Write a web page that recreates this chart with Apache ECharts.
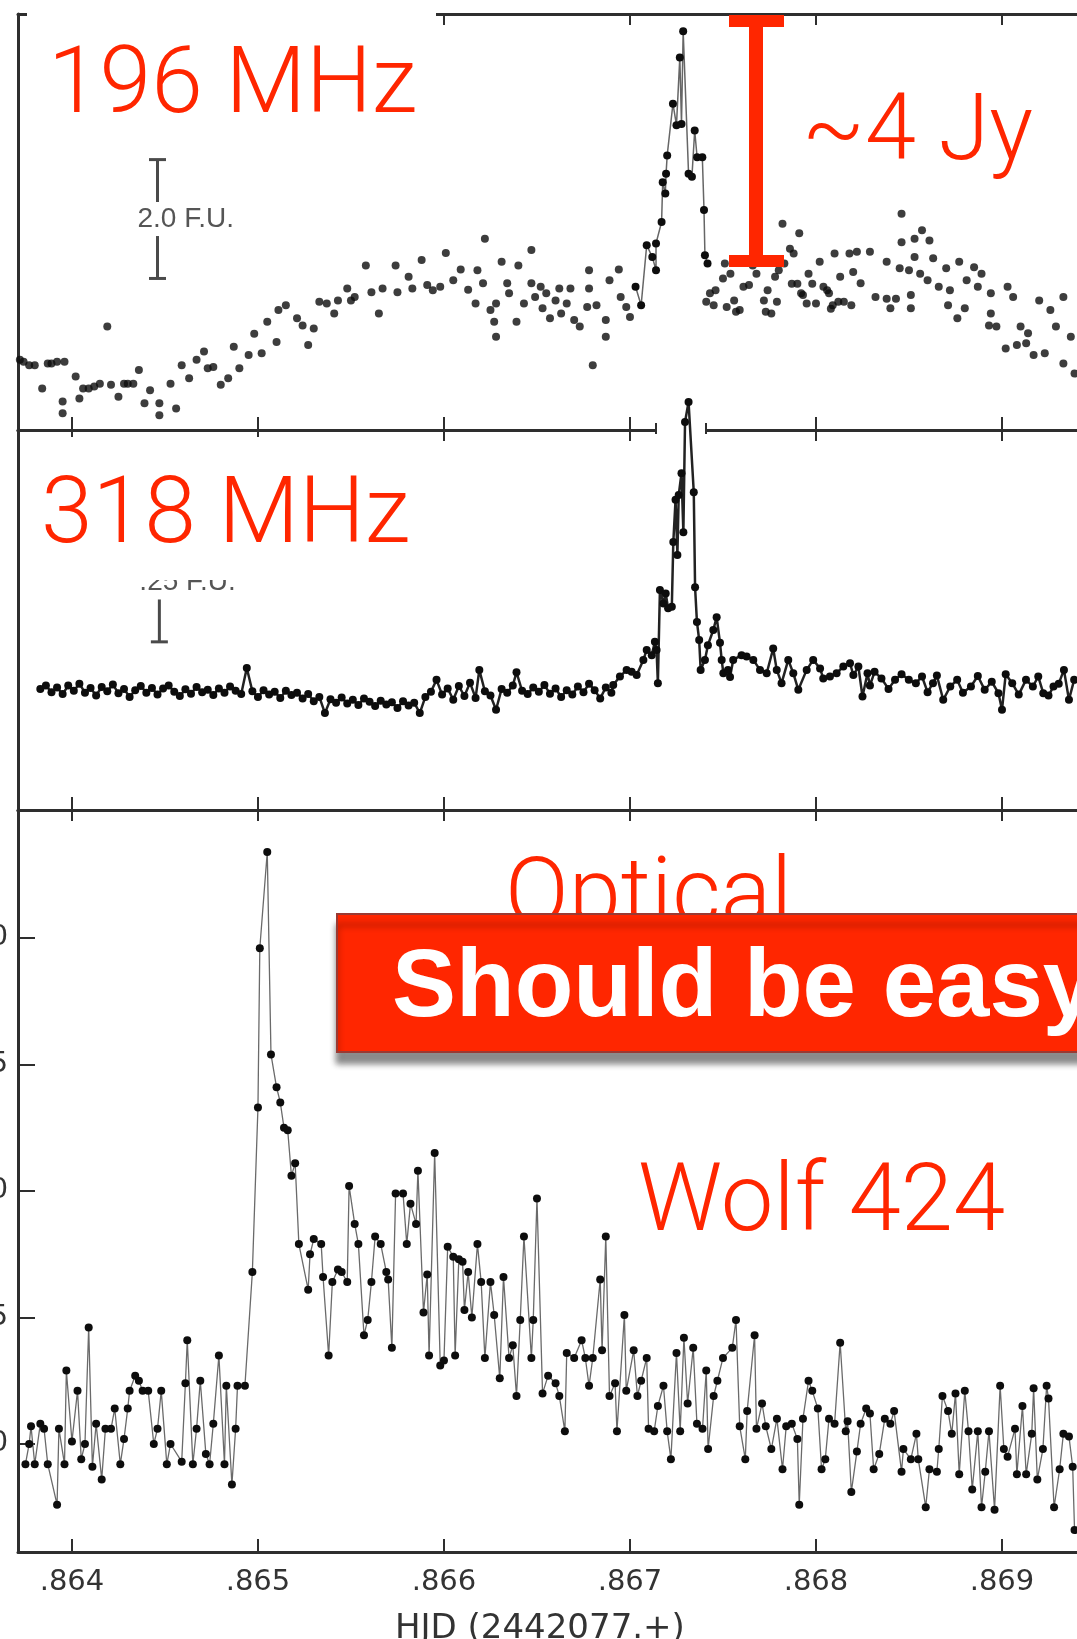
<!DOCTYPE html>
<html><head><meta charset="utf-8">
<script src="https://cdn.jsdelivr.net/npm/echarts@6/dist/echarts.min.js"></script>
<style>html,body{margin:0;padding:0;background:#fff}#c{width:1077px;height:1639px}</style>
</head><body><div id="c"></div><script>
// ---------- data ----------
const xTicks = [0.864, 0.865, 0.866, 0.867, 0.868, 0.869];
const opticalTicks = [1.0, 1.5, 2.0, 2.5, 3.0];

// 196 MHz scattered points (HJD fraction, flux F.U.)
const mhz196Points = [
[.86372,1.18],[.86374,1.15],[.86377,1.09],[.86380,1.09],[.86384,0.70],[.86387,1.12],[.86389,1.12],[.86392,1.15],[.86395,0.48],[.86395,0.28],[.86396,1.15],[.86402,0.90],[.86404,0.53],[.86406,0.70],[.86409,0.70],[.86412,0.73],[.86415,0.78],[.86419,1.74],[.86421,0.76],[.86425,0.56],[.86428,0.78],[.86430,0.78],[.86433,0.78],[.86436,1.01],[.86439,0.45],[.86442,0.67],[.86447,0.45],[.86447,0.25],[.86453,0.78],[.86456,0.36],[.86459,1.09],[.86463,0.87],[.86467,1.18],[.86471,1.32],[.86473,1.04],[.86476,1.06],[.86480,0.76],[.86484,0.87],[.86487,1.40],[.86490,1.04],[.86495,1.26],[.86498,1.62],[.86502,1.29],[.86505,1.82],[.86510,1.48],[.86511,2.02],[.86515,2.10],[.86521,1.88],[.86524,1.76],[.86527,1.43],[.86530,1.71],[.86533,2.16],[.86537,2.13],[.86541,1.96],[.86543,2.18],[.86548,2.38],[.86550,2.18],[.86552,2.24],[.86558,2.77],[.86561,2.32],[.86565,1.96],
[.86567,2.38],[.86574,2.77],[.86575,2.32],[.86581,2.58],[.86583,2.38],[.86588,2.86],[.86591,2.44],[.86594,2.35],[.86598,2.41],[.86601,2.98],[.86605,2.52],[.86609,2.70],[.86613,2.36],[.86617,2.13],[.86618,2.69],[.86621,2.47],[.86622,3.22],[.86625,2.02],[.86627,1.82],[.86628,1.57],[.86628,2.13],[.86631,2.83],[.86634,2.47],[.86635,2.30],[.86639,1.82],[.86640,2.77],[.86643,2.13],[.86647,3.03],[.86647,2.47],[.86649,2.24],[.86652,2.41],[.86653,2.05],[.86655,2.30],[.86657,1.88],[.86660,2.18],[.86662,2.38],[.86663,1.96],[.86666,2.13],[.86668,2.38],[.86670,1.85],[.86673,1.74],[.86677,2.07],[.86678,2.69],[.86678,2.38],[.86680,1.09],[.86682,2.10],[.86687,1.85],[.86687,1.57],[.86689,2.52],[.86694,2.70],[.86695,2.24],[.86698,2.07],[.86700,1.90],
[.86741,2.16],[.86743,2.30],[.86745,2.10],[.86746,2.35],[.86750,2.55],[.86751,2.80],[.86752,2.07],[.86754,2.63],[.86756,2.18],[.86757,1.99],[.86759,2.02],[.86761,2.41],[.86764,2.44],[.86766,2.77],[.86768,2.63],[.86770,2.86],[.86772,2.18],[.86773,1.99],[.86774,2.35],[.86776,1.96],[.86778,2.58],[.86779,2.16],[.86780,2.69],[.86782,3.47],[.86783,2.80],[.86786,3.05],[.86787,2.46],[.86788,2.97],[.86790,2.46],[.86791,3.31],[.86792,2.30],[.86793,2.27],[.86795,2.13],[.86796,2.63],[.86798,2.46],[.86800,2.13],[.86802,2.83],[.86804,2.41],[.86806,2.35],[.86807,2.30],[.86808,2.04],[.86809,2.10],[.86810,2.97],[.86812,2.16],[.86813,2.58],[.86815,2.16],[.86818,2.97],
[.86819,2.10],[.86820,2.66],[.86822,3.00],[.86824,2.47],[.86829,3.00],[.86832,2.24],[.86838,2.83],[.86838,2.21],[.86840,2.05],[.86843,2.21],[.86845,2.72],[.86846,3.16],[.86846,3.64],[.86850,2.69],[.86851,2.27],[.86851,2.05],[.86853,3.22],[.86853,2.91],[.86856,2.63],[.86857,3.36],[.86860,2.52],[.86861,3.19],[.86863,2.89],[.86866,2.41],[.86870,2.72],[.86871,2.10],[.86872,2.35],[.86876,1.88],[.86877,2.83],[.86880,2.05],[.86881,2.52],[.86885,2.74],[.86887,2.41],[.86889,2.63],[.86893,1.76],[.86894,2.30],[.86894,1.96],[.86897,1.74],[.86902,1.37],[.86903,2.41],[.86906,2.24],[.86908,1.43],[.86910,1.74],[.86913,1.46],[.86914,1.63],[.86917,1.26],[.86920,2.18],[.86923,1.29],[.86926,2.02],[.86929,1.74],[.86933,2.24],[.86933,1.12],[.86937,1.57],[.86939,0.95]
];
// 196 MHz burst, joined by a line
const mhz196Burst = [
[.86703,2.41],[.86706,2.10],[.86709,3.11],[.86712,2.91],[.86714,2.69],[.86714,3.14],[.86717,3.50],[.867176,4.17],[.86719,3.98],[.867194,4.31],[.867200,4.62],[.867231,5.49],[.867250,5.13],[.867268,6.27],[.867277,5.15],[.867286,6.71],[.867315,4.31],[.867333,4.26],[.867348,5.04],[.867361,4.59],[.867389,4.59],[.867398,3.70],[.867403,2.94],[.867417,2.80]
];
// 318 MHz (HJD fraction, flux F.U.)
const mhz318 = [
[.86383,.255],[.86386,.262],[.86389,.248],[.86392,.258],[.86395,.244],[.86398,.262],[.86401,.251],[.86404,.266],[.86407,.247],[.86410,.257],[.86413,.241],[.86416,.259],[.86419,.250],[.86422,.264],[.86425,.246],[.86428,.255],[.86431,.238],[.86434,.252],[.86437,.261],[.86440,.247],[.86443,.257],[.86446,.243],[.86449,.256],[.86452,.262],[.86455,.249],[.86458,.240],[.86461,.254],[.86464,.245],[.86467,.259],[.86470,.248],[.86473,.253],[.86476,.242],[.86479,.256],[.86482,.247],[.86485,.260],[.86488,.251],[.86491,.244],[.86494,.299],[.86497,.250],[.86500,.238],[.86503,.252],[.86506,.243],[.86509,.249],[.86512,.236],[.86515,.251],[.86518,.242],[.86521,.247],[.86524,.235],[.86527,.244],[.86530,.229],[.86533,.238],[.86536,.204],[.86539,.233],[.86542,.226],[.86545,.237],[.86548,.224],[.86551,.232],[.86554,.221],[.86557,.235],[.86560,.228],[.86563,.219],[.86566,.230],[.86569,.222],[.86572,.227],[.86575,.215],[.86578,.229],[.86581,.220],[.86584,.226],[.86587,.204],[.86590,.238],[.86593,.249],[.86596,.274],[.86599,.243],[.86602,.256],[.86605,.232],[.86608,.261],[.86611,.240],[.86614,.268],[.86617,.236],[.86619,.295],[.86622,.250],[.86625,.241],[.86628,.211],[.86631,.255],[.86634,.247],[.86637,.262],[.86639,.290],[.86642,.251],[.86645,.244],[.86648,.258],[.86651,.249],[.86654,.263],[.86657,.245],[.86660,.256],[.86663,.238],[.86666,.252],[.86669,.243],[.86672,.260],[.86675,.248],[.86678,.266],[.86681,.252],[.86684,.235],[.86687,.258],[.86690,.247],
[.866910,.263],[.866946,.281],[.866982,.295],[.867009,.291],[.867036,.284],[.867072,.316],[.867090,.337],[.867117,.326],[.867134,.354],[.867143,.337],[.867150,.267],[.867161,.463],[.867180,.435],[.867192,.456],[.867205,.425],[.867225,.428],[.867233,.564],[.867245,.653],[.867255,.537],[.867262,.663],[.867277,.709],[.867287,.585],[.867296,.817],[.867315,.859],[.867343,.669],[.867350,.469],[.867360,.396],[.867372,.358],[.867380,.295],[.867403,.316],[.867419,.347],[.867448,.379],[.867466,.406],[.867484,.352],[.867493,.316],[.867502,.288],[.867527,.295],[.867538,.280],
[.867555,.316],[.867600,.326],[.867627,.323],[.867663,.316],[.867699,.295],[.867735,.288],[.867770,.340],[.867789,.295],[.867815,.267],[.867851,.316],[.867878,.288],[.867905,.253],[.867950,.295],[.867985,.316],[.868022,.298],[.868039,.277],[.868075,.281],[.868111,.288],[.868147,.302],[.868183,.309],[.868201,.284],[.868228,.302],[.868250,.239],[.868277,.288],[.868290,.262],[.868315,.291],[.868352,.277],[.868390,.255],[.868425,.274],[.868460,.286],[.868499,.274],[.868537,.267],[.868570,.281],[.868600,.248],[.868629,.267],[.868650,.283],[.868684,.232],[.868722,.260],[.868759,.274],[.868790,.247],[.868833,.260],[.868870,.282],[.868907,.253],[.868945,.270],[.868981,.246],[.869000,.211],[.869020,.286],[.869055,.267],[.869090,.243],[.869129,.274],[.869166,.260],[.869195,.281],[.869222,.246],[.869250,.241],[.869277,.260],[.869305,.266],[.869333,.295],[.869360,.232],[.869388,.274]
];
// Optical (HJD fraction, relative intensity)
const optical = [
[.86375,.92],[.86377,1.00],[.86378,1.07],[.86380,.92],[.86383,1.08],[.86385,1.06],[.86387,.92],[.86392,.76],[.86393,1.06],[.86396,.92],[.86397,1.29],[.86400,1.01],[.86403,1.21],[.86405,.94],[.86407,1.00],[.86409,1.46],[.86411,.91],[.86413,1.08],[.86416,.86],[.86418,1.06],[.86421,1.06],[.86423,1.14],[.86426,.92],[.86428,1.02],[.86430,1.14],[.86431,1.21],[.86434,1.27],[.86436,1.25],[.86438,1.21],[.86441,1.21],[.86444,1.00],[.86446,1.06],[.86448,1.21],[.86451,.92],[.86453,1.00],[.86459,.93],[.86461,1.24],[.86462,1.41],[.86465,.92],[.86467,1.06],[.86469,1.25],[.86472,.96],[.86474,.92],[.86476,1.08],[.86479,1.35],[.86482,.92],[.86483,1.23],[.86486,.84],[.86488,1.06],[.86489,1.23],[.86493,1.23],[.86497,1.68],
[.86500,2.33],[.86501,2.96],[.86505,3.34],[.86507,2.54],[.86510,2.41],[.86512,2.35],[.86514,2.25],[.86516,2.24],[.86518,2.06],[.86520,2.11],[.86522,1.79],
[.86527,1.61],[.86528,1.75],[.86530,1.81],[.86534,1.79],[.86535,1.66],[.86538,1.35],[.86540,1.64],[.86543,1.69],[.86545,1.68],[.86548,1.64],[.86549,2.02],[.86552,1.87],[.86554,1.79],[.86557,1.43],[.86559,1.49],[.86561,1.64],[.86563,1.82],[.86566,1.79],[.86569,1.68],[.86570,1.65],[.86572,1.38],[.86574,1.99],[.86578,1.99],[.86580,1.79],[.86582,1.95],[.86585,1.87],[.86586,2.08],[.86589,1.52],[.86591,1.67],[.86592,1.35],[.86595,2.15],[.86598,1.31],[.86600,1.33],[.86602,1.78],[.86605,1.74],[.86606,1.35],[.86608,1.73],[.86610,1.72],[.86611,1.53],[.86613,1.68],[.86615,1.50],[.86618,1.79],[.86620,1.64],[.86622,1.34],[.86625,1.64],[.86627,1.51],[.86630,1.26],[.86632,1.66],[.86635,1.34],[.86637,1.39],[.86639,1.19],[.86641,1.49],[.86643,1.82],[.86647,1.34],[.86648,1.49],[.86650,1.97],[.86653,1.20],[.86656,1.27],[.86660,1.24],[.86662,1.19],[.86665,1.05],[.86666,1.36],[.86670,1.34],[.86674,1.41],[.86676,1.34],[.86678,1.23],[.86680,1.34],[.86684,1.65],[.86685,1.37],[.86687,1.82],[.86689,1.19],[.86692,1.24],[.86693,1.05],[.86697,1.51],[.86698,1.21],[.86702,1.37],[.86704,1.19],[.86706,1.25],[.86709,1.34],[.86710,1.06],[.86713,1.05],[.86715,1.15],[.86718,1.23],[.86720,1.05],[.86722,.94],[.86725,1.36],[.86727,1.05],[.86729,1.42],[.86731,1.16],[.86734,1.38],[.86736,1.08],[.86739,1.06],[.86741,1.29],[.86742,.98],[.86745,1.19],[.86747,1.25],[.86750,1.34],[.86755,1.38],[.86757,1.49],
[.86759,1.07],[.86762,.94],[.86763,1.13],[.86767,1.43],[.86768,1.06],[.86771,1.16],[.86773,1.07],[.86776,.98],[.86779,1.10],[.86782,.90],[.86784,1.07],[.86787,1.08],[.86790,1.02],[.86791,.76],[.86793,1.10],[.86796,1.25],[.86798,1.21],[.86801,1.14],[.86803,.90],[.86805,.94],[.86807,1.10],[.86810,1.08],[.86813,1.40],[.86816,1.05],[.86817,1.09],[.86819,.81],[.86822,.97],[.86824,1.08],[.86827,1.14],[.86829,1.12],[.86831,.90],[.86834,.96],[.86837,1.10],[.86840,1.08],[.86842,1.13],[.86846,.89],[.86847,.98],[.86851,.94],[.86854,1.04],[.86855,.94],[.86859,.75],[.86861,.90],[.86865,.89],[.86866,.98],[.86868,1.19],[.86871,1.13],[.86873,1.04],[.86875,1.20],[.86877,.88],[.86880,1.21],[.86882,1.05],[.86884,.82],[.86887,1.05],[.86889,.75],[.86891,.89],[.86893,1.05],[.86896,.74],[.86899,1.23],[.86901,.98],[.86903,.95],[.86907,1.06],[.86908,.88],[.86911,1.15],[.86913,.88],[.86916,1.04],[.86917,1.22],[.86919,.86],[.86922,.98],[.86924,1.23],[.86925,1.18],[.86928,.75],[.86931,.90],[.86933,1.04],[.86936,1.03],[.86938,.91],[.86939,.66]
];
// flux-unit scale bars: [HJD, bottom, top]
const scaleBar196 = [0.86446, 2.55, 4.55];
const scaleBar318 = [0.86447, 0.354, 0.604];
const scaleBar196Label = '2.0 F.U.';
const scaleBar318Label = '.25 F.U.';

// ---------- chart ----------
const RED = '#ff2600';
const INK = '#2e2e2e';
const X_MIN = 0.86371, X_MAX = 0.8700;
const GL = 18, GW = 1170;
const chart = echarts.init(document.getElementById('c'), null, {renderer: 'canvas'});

function xAxis(grid, pos, labels) {
  return {
    type: 'value', gridIndex: grid, position: pos, min: X_MIN, max: X_MAX,
    axisLine: {show: true, onZero: false, lineStyle: {color: INK, width: 3}},
    axisTick: {show: true, inside: true, length: pos === 'top' ? 11 : 13,
      customValues: xTicks, lineStyle: {color: INK, width: 2}},
    axisLabel: {show: labels, customValues: xTicks, margin: 16,
      formatter: v => '.' + Math.round(v * 1000),
      fontFamily: 'DejaVu Sans', fontSize: 29, color: '#333'},
    splitLine: {show: false}
  };
}
function yAxis(grid, min, max, ticks) {
  return {
    type: 'value', gridIndex: grid, min: min, max: max,
    axisLine: {show: true, onZero: false, lineStyle: {color: INK, width: 3}},
    axisTick: {show: !!ticks, inside: true, length: 17, customValues: ticks || undefined,
      lineStyle: {color: INK, width: 2}},
    axisLabel: {show: !!ticks, customValues: ticks || undefined, margin: 10,
      formatter: v => v.toFixed(1), fontFamily: 'DejaVu Sans', fontSize: 28, color: '#333'},
    splitLine: {show: false}
  };
}
function scaleBarSeries(xi, yi, bar, label) {
  return {
    type: 'custom', xAxisIndex: xi, yAxisIndex: yi, z: 3, silent: true,
    data: [bar],
    renderItem: function (params, api) {
      const p0 = api.coord([api.value(0), api.value(1)]);
      const p1 = api.coord([api.value(0), api.value(2)]);
      const mid = (p0[1] + p1[1]) / 2, gap = 17, cap = 8.5;
      const ls = {stroke: '#4a4a4a', lineWidth: 3};
      return {type: 'group', children: [
        {type: 'line', shape: {x1: p0[0], y1: p0[1], x2: p0[0], y2: mid + gap}, style: ls},
        {type: 'line', shape: {x1: p1[0], y1: p1[1], x2: p1[0], y2: mid - gap}, style: ls},
        {type: 'line', shape: {x1: p0[0] - cap, y1: p0[1], x2: p0[0] + cap, y2: p0[1]}, style: ls},
        {type: 'line', shape: {x1: p1[0] - cap, y1: p1[1], x2: p1[0] + cap, y2: p1[1]}, style: ls},
        {type: 'text', style: {text: label, x: p0[0] - 20, y: mid,
          font: '28px "Liberation Sans", Arial, sans-serif', fill: '#555',
          align: 'left', textAlign: 'left', verticalAlign: 'middle', textVerticalAlign: 'middle'}}
      ]};
    }
  };
}
function txt(x, y, text, font, fill, z) {
  return {type: 'text', x: x, y: y, z: z, silent: true,
    style: {text: text, font: font, fill: fill, align: 'left', textAlign: 'left',
      verticalAlign: 'middle', textVerticalAlign: 'middle'}};
}
const LIGHT = '300 93px Roboto, "Liberation Sans", sans-serif';

const option = {
  animation: false,
  backgroundColor: '#fff',
  grid: [
    {left: GL, width: GW, top: 14, height: 416, outerBoundsMode: 'none', containLabel: false},
    {left: GL, width: GW, top: 430, height: 380, outerBoundsMode: 'none', containLabel: false},
    {left: GL, width: GW, top: 810, height: 742, outerBoundsMode: 'none', containLabel: false}
  ],
  xAxis: [xAxis(0, 'bottom', false), xAxis(0, 'top', false),
          xAxis(1, 'bottom', false), xAxis(1, 'top', false),
          xAxis(2, 'bottom', true), xAxis(2, 'top', false)],
  yAxis: [yAxis(0, 0, 7), yAxis(1, 0, 0.8), yAxis(2, 0.573, 3.506, opticalTicks)],
  series: [
    {type: 'scatter', xAxisIndex: 0, yAxisIndex: 0, data: mhz196Points, symbol: 'circle',
      symbolSize: 8, itemStyle: {color: '#0d0d0d'}, z: 2},
    {type: 'line', xAxisIndex: 0, yAxisIndex: 0, data: mhz196Burst, symbol: 'circle', symbolSize: 8,
      showSymbol: true, itemStyle: {color: '#0d0d0d'}, lineStyle: {color: '#666', width: 1.5}, z: 2},
    {type: 'line', xAxisIndex: 2, yAxisIndex: 1, data: mhz318, symbol: 'circle', symbolSize: 8,
      showSymbol: true, clip: false, itemStyle: {color: '#0d0d0d'}, lineStyle: {color: '#222', width: 2.5}, z: 2},
    {type: 'line', xAxisIndex: 4, yAxisIndex: 2, data: optical, symbol: 'circle', symbolSize: 8,
      showSymbol: true, itemStyle: {color: '#0d0d0d'}, lineStyle: {color: '#6a6a6a', width: 1.3}, z: 2},
    scaleBarSeries(0, 0, scaleBar196, scaleBar196Label),
    scaleBarSeries(2, 1, scaleBar318, scaleBar318Label)
  ],
  graphic: [
    // break in the panel border where the 318 MHz burst passes
    {type: 'rect', z: 1, shape: {x: 657, y: 425, width: 48, height: 10}, style: {fill: '#fff'}},
    {type: 'line', z: 1, shape: {x1: 656, y1: 423, x2: 656, y2: 434}, style: {stroke: INK, lineWidth: 2}},
    {type: 'line', z: 1, shape: {x1: 706, y1: 423, x2: 706, y2: 434}, style: {stroke: INK, lineWidth: 2}},
    // white label patches
    {type: 'rect', z: 50, shape: {x: 27, y: 4, width: 409, height: 126}, style: {fill: '#fff'}},
    {type: 'rect', z: 50, shape: {x: 27, y: 437, width: 409, height: 143}, style: {fill: '#fff'}},
    txt(48, 89, '196 MHz', LIGHT, RED, 60),
    txt(41, 519, '318 MHz', LIGHT, RED, 60),
    // red ~4 Jy marker
    {type: 'rect', z: 60, shape: {x: 749, y: 15, width: 14, height: 252}, style: {fill: RED}},
    {type: 'rect', z: 60, shape: {x: 729, y: 15, width: 55, height: 12}, style: {fill: RED}},
    {type: 'rect', z: 60, shape: {x: 729, y: 255, width: 55, height: 12}, style: {fill: RED}},
    txt(802, 136, '~4 Jy', '300 92px Roboto, "Liberation Sans", sans-serif', RED, 60),
    txt(505, 900, 'Optical', '300 94px Roboto, "Liberation Sans", sans-serif', RED, 60),
    txt(638, 1206, 'Wolf 424', '300 94px Roboto, "Liberation Sans", sans-serif', RED, 60),
    {type: 'rect', z: 70, shape: {x: 337, y: 914, width: 800, height: 138},
      style: {fill: RED, stroke: '#9a3a33', lineWidth: 2, shadowBlur: 6, shadowOffsetY: 11,
        shadowOffsetX: 0, shadowColor: 'rgba(0,0,0,0.45)'}},
    txt(392, 990, 'Should be easy', 'bold 96px "Liberation Sans", Arial, sans-serif', '#fff', 75),
    {type: 'text', x: 395, y: 1612, z: 60, silent: true,
      style: {text: 'HJD (2442077.+)', font: '34px "DejaVu Sans", sans-serif', fill: '#333',
        align: 'left', textAlign: 'left', verticalAlign: 'top', textVerticalAlign: 'top'}}
  ]
};
chart.setOption(option);
</script></body></html>
